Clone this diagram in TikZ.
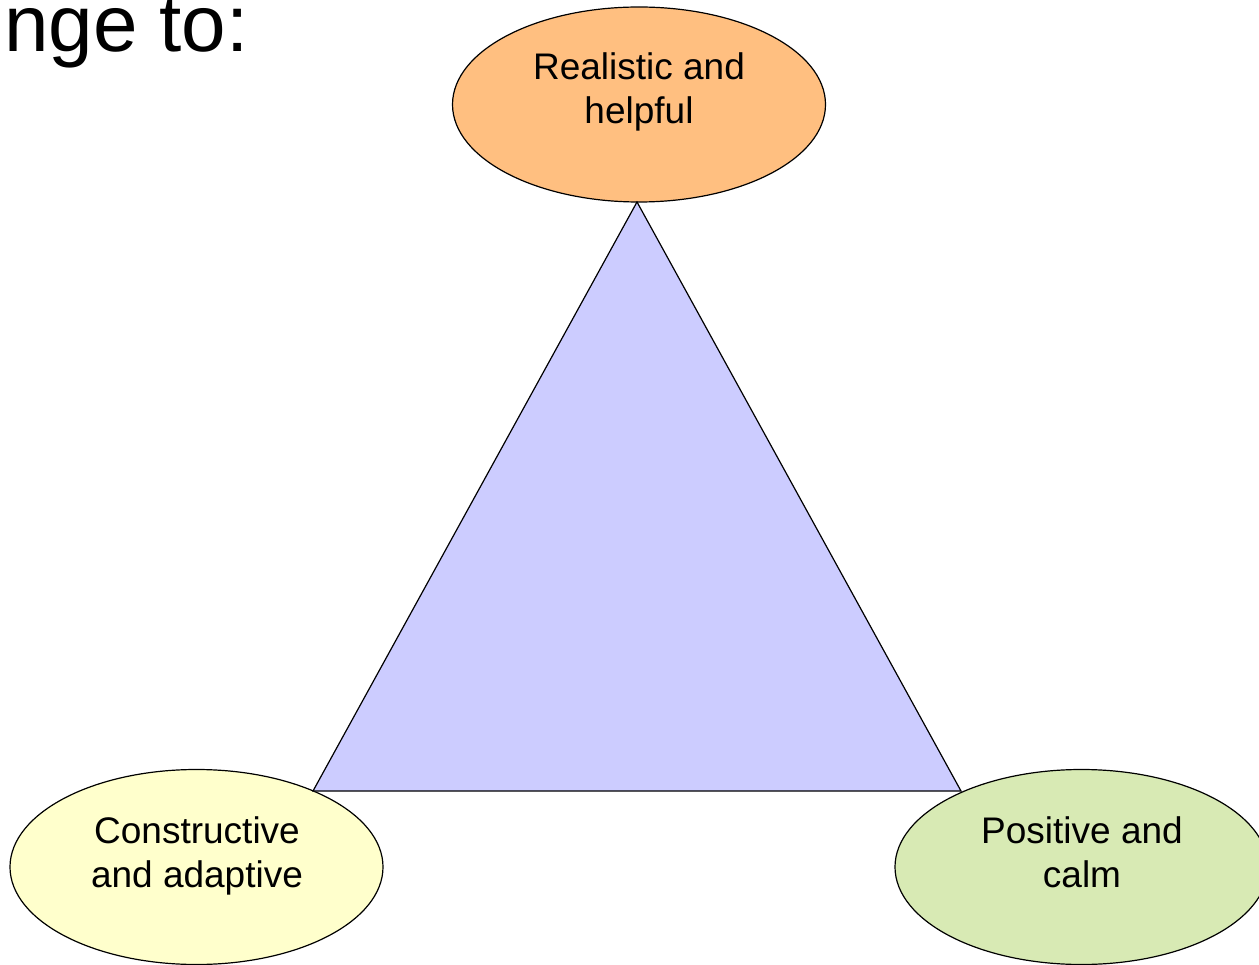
\documentclass[tikz,border=0pt]{standalone}
\usepackage{fontspec}
\setmainfont{Liberation Sans}
\usetikzlibrary{shapes.geometric}
\definecolor{peach}{HTML}{FFBF80}
\definecolor{cream}{HTML}{FFFFCC}
\definecolor{sage}{HTML}{D8EAB4}
\definecolor{lavender}{HTML}{CCCCFF}
\tikzset{
  bubble/.style={ellipse, draw=black, line width=1.2pt, minimum width=373pt, minimum height=195pt, inner sep=0pt},
  lbl/.style={align=center, inner sep=0pt, font=\fontsize{37}{44}\selectfont},
  heading/.style={inner sep=0pt, font=\fontsize{80}{86}\selectfont},
  wedge/.style={draw=black, line width=1.2pt, fill=lavender, line join=miter}
}
\begin{document}
\begin{tikzpicture}[x=1pt, y=-1pt]
  \useasboundingbox (0,0) rectangle (1259,965);
  \clip (0,0) rectangle (1259,965);
  \fill[white] (0,0) rectangle (1259,965);

  % title, partly outside the frame on the left
  \node[heading, anchor=base east] (title) at (249,52) {nge to:};

  % the three qualities
  \node[bubble, fill=peach] (real) at (639,104.5) {};
  \node[bubble, fill=cream] (cons) at (196.5,867) {};
  \node[bubble, fill=sage]  (posi) at (1081.5,867) {};

  \node[lbl] (realtxt) at (639,92) {Realistic and\\helpful};
  \node[lbl] (constxt) at (197,856) {Constructive\\and adaptive};
  \node[lbl] (positxt) at (1082,852) {Positive and\\calm};

  % triangle joining them
  \coordinate (apex) at (637,202);
  \coordinate (left) at (313,791);
  \coordinate (right) at (961,791);
  \draw[wedge] (apex) -- (right) -- (left) -- cycle;
\end{tikzpicture}
\end{document}
